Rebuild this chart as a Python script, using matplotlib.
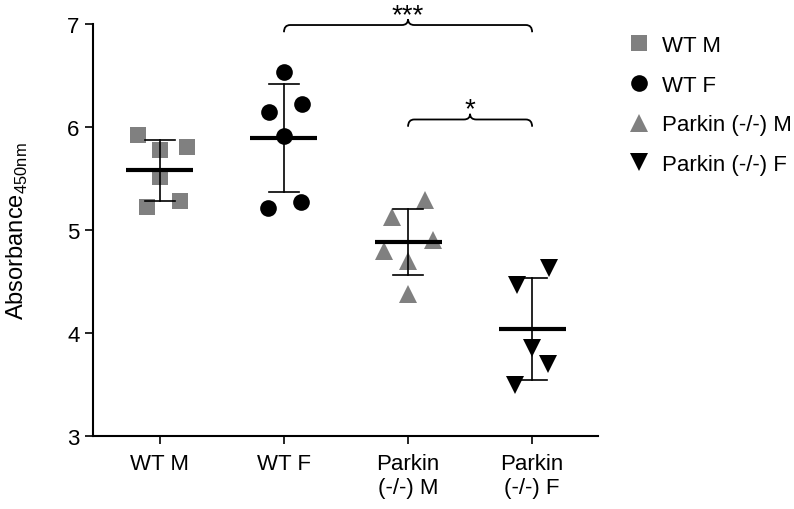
import matplotlib
matplotlib.use("Agg")
import matplotlib.pyplot as plt
import numpy as np
from matplotlib.path import Path
from matplotlib.patches import PathPatch

plt.rcParams['font.family'] = ['Liberation Sans', 'DejaVu Sans']
plt.rcParams['mathtext.fontset'] = 'custom'
plt.rcParams['mathtext.rm'] = 'Liberation Sans'

categories = ["WT M", "WT F", "Parkin\n(-/-) M", "Parkin\n(-/-) F"]
legend_labels = ["WT M", "WT F", "Parkin (-/-) M", "Parkin (-/-) F"]

wt_m = [5.925, 5.78, 5.81, 5.515, 5.22, 5.285]
wt_m_jit = [-0.18, 0.0, 0.22, 0.0, -0.10, 0.16]
wt_f = [6.532, 6.141, 6.222, 5.909, 5.218, 5.276]
wt_f_jit = [0.0, -0.12, 0.145, 0.0, -0.13, 0.14]
pk_m = [5.289, 5.131, 4.908, 4.801, 4.695, 4.375]
pk_m_jit = [0.14, -0.13, 0.2, -0.19, 0.0, 0.0]
pk_f = [4.634, 4.462, 3.852, 3.704, 3.494]
pk_f_jit = [0.14, -0.12, 0.0, 0.13, -0.14]

means = [5.58, 5.893, 4.886, 4.04]
sds = [0.295, 0.527, 0.32, 0.495]

series = [wt_m, wt_f, pk_m, pk_f]
jitters = [wt_m_jit, wt_f_jit, pk_m_jit, pk_f_jit]
markers = ['s', 'o', '^', 'v']
colors = ['#808080', '#000000', '#808080', '#000000']
msizes = [11.5, 12, 13, 13]

fig = plt.figure(figsize=(7.94, 5.10), dpi=100)
ax = fig.add_axes([0.117, 0.143, 0.636, 0.808])

for i, (vals, jit, m, c, ms, lab) in enumerate(zip(series, jitters, markers, colors, msizes, legend_labels)):
    xs = i + np.array(jit)
    ax.plot(xs, vals, linestyle='none', marker=m, color=c, markersize=ms,
            markeredgewidth=0, label=lab, zorder=2, clip_on=False)
    # error bar (SD)
    ax.plot([i, i], [means[i] - sds[i], means[i] + sds[i]], color='black', lw=1.2, zorder=3)
    for yv in (means[i] - sds[i], means[i] + sds[i]):
        ax.plot([i - 0.12, i + 0.12], [yv, yv], color='black', lw=1.2, zorder=3)
    ax.plot([i - 0.27, i + 0.27], [means[i], means[i]], color='black', lw=3, zorder=3,
            solid_capstyle='butt')


def brace(ax, x1, x2, yb, d, t, r):
    xm = (x1 + x2) / 2
    verts = [(x1, yb - d), (x1, yb), (x1 + r, yb), (xm - r, yb), (xm, yb), (xm, yb + t),
             (xm, yb), (xm + r, yb), (x2 - r, yb), (x2, yb), (x2, yb - d)]
    codes = [Path.MOVETO, Path.CURVE3, Path.CURVE3, Path.LINETO, Path.CURVE3, Path.CURVE3,
             Path.CURVE3, Path.CURVE3, Path.LINETO, Path.CURVE3, Path.CURVE3]
    p = PathPatch(Path(verts, codes), fill=False, lw=1.3, edgecolor='black', clip_on=False)
    ax.add_patch(p)
    return xm

xm = brace(ax, 1, 3, 6.99, 0.07, 0.058, 0.05)
ax.text(xm, 7.09, "***", ha='center', va='center', fontsize=20, clip_on=False)
xm = brace(ax, 2, 3, 6.073, 0.07, 0.055, 0.05)
ax.text(xm, 6.17, "*", ha='center', va='center', fontsize=20, clip_on=False)

ax.set_xlim(-0.54, 3.53)
ax.set_ylim(3, 7)
ax.set_yticks([3, 4, 5, 6, 7])
ax.set_xticks(range(4))
ax.set_xticklabels(categories, fontsize=16)
ax.tick_params(axis='y', labelsize=16, length=6, width=1.2)
ax.tick_params(axis='x', length=6, width=1.2, pad=6)
for s in ['top', 'right']:
    ax.spines[s].set_visible(False)
for s in ['left', 'bottom']:
    ax.spines[s].set_linewidth(1.5)
ax.set_ylabel('Absorbance$_{\\mathregular{450nm}}$', fontsize=17, labelpad=27)

leg = ax.legend(loc='upper left', bbox_to_anchor=(628 / 794, 1 - 36 / 510),
                bbox_transform=fig.transFigure, frameon=False, fontsize=16,
                handlelength=1.0, handletextpad=0.55, labelspacing=0.84, borderaxespad=0,
                borderpad=0)

fig.savefig("out.png", dpi=100)
